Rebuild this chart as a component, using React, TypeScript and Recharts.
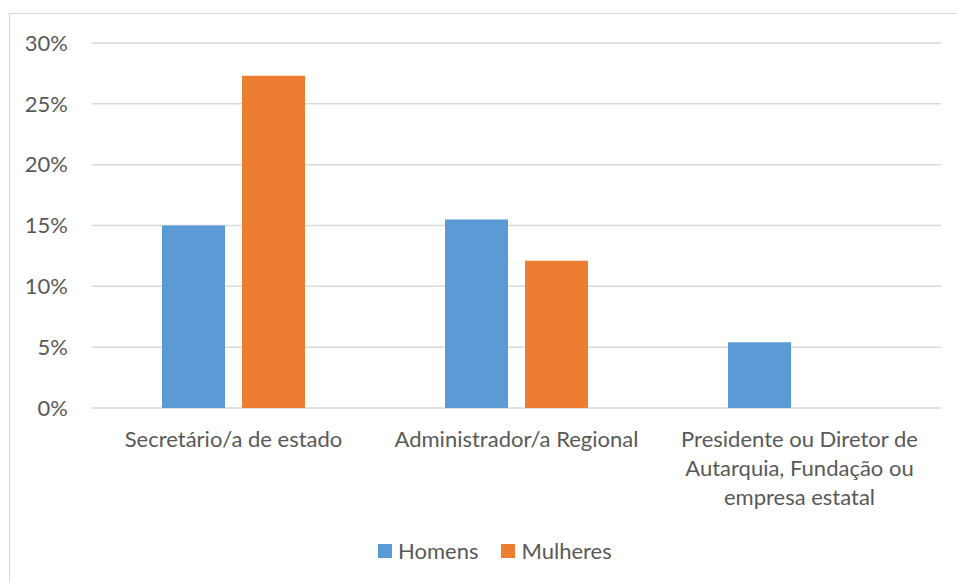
import React from "react";
import { BarChart, Bar, XAxis, YAxis, CartesianGrid } from "recharts";

const categories = [
  "Secretário/a de estado",
  "Administrador/a Regional",
  "Presidente ou Diretor de Autarquia, Fundação ou empresa estatal",
];
const categoryLines = [
  ["Secretário/a de estado"],
  ["Administrador/a Regional"],
  ["Presidente ou Diretor de", "Autarquia, Fundação ou", "empresa estatal"],
];
const homens = [15.0, 15.5, 5.4];
const mulheres = [27.3, 12.1, 0];
const yTicks = [0, 5, 10, 15, 20, 25, 30];
const seriesNames = ["Homens", "Mulheres"];

const data = categories.map((c, i) => ({ name: c, Homens: homens[i], Mulheres: mulheres[i] }));

const FONT = "Lato, 'Open Sans', sans-serif";
const TEXT = "#595959";
const BLUE = "#5B9BD5";
const ORANGE = "#ED7D31";
const colors = [BLUE, ORANGE];

const XTick = (props: any) => {
  const { x, y, index } = props;
  const lines = categoryLines[index] || [props.payload.value];
  return (
    <text x={x} y={y} textAnchor="middle" fill={TEXT} fontSize={22} fontFamily={FONT}>
      {lines.map((l: string, i: number) => (
        <tspan key={i} x={x} y={y + 39 + i * 29}>
          {l}
        </tspan>
      ))}
    </text>
  );
};

export default function App() {
  return (
    <div style={{ position: "absolute", left: 0, top: 0, width: 957, height: 583, background: "#fff", overflow: "hidden" }}>
      <div
        style={{
          position: "absolute",
          left: 9,
          top: 13,
          width: 960,
          height: 600,
          borderLeft: "1.5px solid #D9D9D9",
          borderTop: "1.5px solid #D9D9D9",
        }}
      />
      <BarChart
        width={957}
        height={583}
        data={data}
        margin={{ top: 43, right: 16, bottom: 145, left: 32 }}
        barSize={63}
        barGap={17}
        style={{ position: "absolute", left: 0, top: 0 }}
      >
        <CartesianGrid vertical={false} stroke="#D9D9D9" strokeWidth={1.5} />
        <XAxis
          dataKey="name"
          height={30}
          axisLine={false}
          tickLine={false}
          tickSize={0}
          tickMargin={0}
          interval={0}
          tick={<XTick />}
        />
        <YAxis
          width={60}
          domain={[0, 30]}
          ticks={yTicks}
          tickFormatter={(v: number) => `${v}%`}
          axisLine={false}
          tickLine={false}
          tickSize={0}
          tickMargin={24}
          tick={{ fill: TEXT, fontSize: 22, fontFamily: FONT }}
        />
        <Bar dataKey="Homens" name={seriesNames[0]} fill={BLUE} isAnimationActive={false} />
        <Bar dataKey="Mulheres" name={seriesNames[1]} fill={ORANGE} isAnimationActive={false} />
      </BarChart>
      <div
        style={{
          position: "absolute",
          left: 378,
          top: 537,
          display: "flex",
          alignItems: "center",
          fontFamily: FONT,
          fontSize: 22,
          color: TEXT,
          whiteSpace: "nowrap",
        }}
      >
        {seriesNames.map((n, i) => (
          <div key={n} style={{ display: "flex", alignItems: "center", marginRight: i === 0 ? 23 : 0 }}>
            <div style={{ width: 14, height: 14, background: colors[i], marginRight: 6 }} />
            <span>{n}</span>
          </div>
        ))}
      </div>
    </div>
  );
}
